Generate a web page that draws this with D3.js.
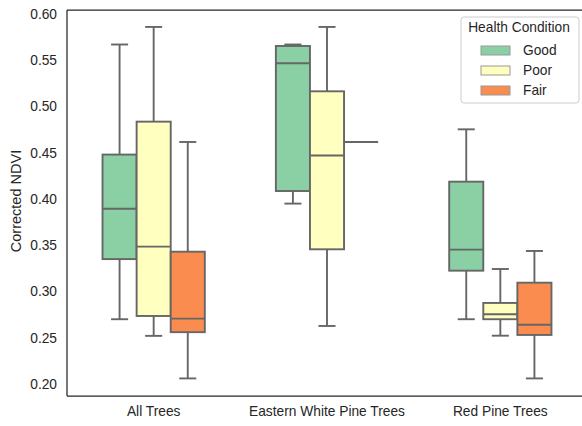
<!DOCTYPE html>
<meta charset="utf-8">
<style>
  body { margin: 0; background: #fff; }
  text { font-family: "Liberation Sans", Arial, sans-serif; fill: #262626; }
</style>
<body>
<div id="chart"></div>
<script src="https://cdn.jsdelivr.net/npm/d3@7"></script>
<script>

// Data: [whisker low, q1, median, q3, whisker high] per group
var groups = ["All Trees", "Eastern White Pine Trees", "Red Pine Trees"];
var conditions = ["Good", "Poor", "Fair"];
var colors = ["#8ad0a4", "#ffffc0", "#fb8c50"];

var goodStats = [
  [0.270, 0.335, 0.3895, 0.448, 0.567],
  [0.395, 0.4086, 0.5467, 0.5654, 0.567],
  [0.270, 0.3225, 0.3452, 0.4187, 0.4753]
];
var poorStats = [
  [0.252, 0.2735, 0.3485, 0.4836, 0.586],
  [0.2627, 0.3456, 0.447, 0.5164, 0.586],
  [0.2522, 0.270, 0.2753, 0.2876, 0.3243]
];
var fairStats = [
  [0.206, 0.256, 0.2706, 0.343, 0.4616],
  [0.4616, 0.4616, 0.4616, 0.4616, 0.4616],
  [0.206, 0.253, 0.2641, 0.3095, 0.3438]
];
var yTicks = [0.20, 0.25, 0.30, 0.35, 0.40, 0.45, 0.50, 0.55, 0.60];

var statsByCondition = [goodStats, poorStats, fairStats];

var W = 582, H = 426;
var margin = {top: 10, right: -5, bottom: 30, left: 67};
var width = W - margin.left - margin.right,
    height = H - margin.top - margin.bottom;
var fontSize = "13.75px";

var svg = d3.select("#chart").append("svg")
    .attr("width", W)
    .attr("height", H);

var g = svg.append("g")
    .attr("transform", "translate(" + margin.left + "," + margin.top + ")");

var x = d3.scaleBand().domain(groups).range([0, width]);
var y = d3.scaleLinear().domain([0.187, 0.6043]).range([height, 0]);
var xInner = d3.scaleBand().domain(conditions)
    .range([0, x.bandwidth() * 0.59]);

var lineColor = "#666666";
var lw = 1.9;

// boxes
conditions.forEach(function(c, ci) {
  var stats = statsByCondition[ci];
  groups.forEach(function(grp, gi) {
    var s = stats[gi];
    var bw = xInner.bandwidth();
    var x0 = x(grp) + (x.bandwidth() - xInner.range()[1]) / 2 + xInner(c);
    var cx = x0 + bw / 2;
    var box = g.append("g");
    // whiskers
    box.append("line")
      .attr("x1", cx).attr("x2", cx)
      .attr("y1", y(s[0])).attr("y2", y(s[1]))
      .attr("stroke", lineColor).attr("stroke-width", lw);
    box.append("line")
      .attr("x1", cx).attr("x2", cx)
      .attr("y1", y(s[3])).attr("y2", y(s[4]))
      .attr("stroke", lineColor).attr("stroke-width", lw);
    // caps
    [s[0], s[4]].forEach(function(v) {
      box.append("line")
        .attr("x1", cx - bw / 4).attr("x2", cx + bw / 4)
        .attr("y1", y(v)).attr("y2", y(v))
        .attr("stroke", lineColor).attr("stroke-width", lw);
    });
    box.append("rect")
      .attr("x", x0)
      .attr("width", bw)
      .attr("y", y(s[3]))
      .attr("height", y(s[1]) - y(s[3]))
      .attr("fill", colors[ci])
      .attr("stroke", lineColor)
      .attr("stroke-width", lw);
    box.append("line")
      .attr("x1", x0).attr("x2", x0 + bw)
      .attr("y1", y(s[2])).attr("y2", y(s[2]))
      .attr("stroke", lineColor).attr("stroke-width", lw);
  });
});

// axes
var yAxis = g.append("g")
    .call(d3.axisLeft(y).tickValues(yTicks).tickFormat(d3.format(".2f")).tickSize(0).tickPadding(10));
yAxis.select(".domain").remove();
yAxis.selectAll("text").style("font-size", fontSize).attr("fill", "#262626");

var xAxis = g.append("g")
    .attr("transform", "translate(0," + height + ")")
    .call(d3.axisBottom(x).tickSize(0).tickPadding(10));
xAxis.select(".domain").remove();
xAxis.selectAll("text").style("font-size", fontSize).attr("fill", "#262626");

// spines
g.append("line").attr("x1", 0).attr("x2", 0).attr("y1", 0).attr("y2", height)
  .attr("stroke", "#262626").attr("stroke-width", 1.25);
g.append("line").attr("x1", 0).attr("x2", width).attr("y1", 0).attr("y2", 0)
  .attr("stroke", "#262626").attr("stroke-width", 1.25);
g.append("line").attr("x1", 0).attr("x2", width).attr("y1", height).attr("y2", height)
  .attr("stroke", "#262626").attr("stroke-width", 1.25);

svg.append("text")
  .attr("transform", "translate(21,201) rotate(-90)")
  .attr("text-anchor", "middle")
  .style("font-size", "14.5px")
  .text("Corrected NDVI");

// legend
var legend = svg.append("g").attr("transform", "translate(461,17)");
legend.append("rect")
  .attr("width", 118).attr("height", 86)
  .attr("rx", 3)
  .attr("fill", "#fff").attr("fill-opacity", 0.8)
  .attr("stroke", "#cccccc").attr("stroke-width", 1);
legend.append("text")
  .attr("x", 58).attr("y", 15)
  .attr("text-anchor", "middle")
  .style("font-size", fontSize)
  .text("Health Condition");
conditions.forEach(function(c, i) {
  var ly = 33 + i * 20;
  legend.append("rect")
    .attr("x", 20).attr("y", ly - 4)
    .attr("width", 29).attr("height", 9)
    .attr("fill", colors[i])
    .attr("stroke", "#999999").attr("stroke-width", 1);
  legend.append("text")
    .attr("x", 62).attr("y", ly + 5)
    .style("font-size", fontSize)
    .text(c);
});

</script>
</body>
